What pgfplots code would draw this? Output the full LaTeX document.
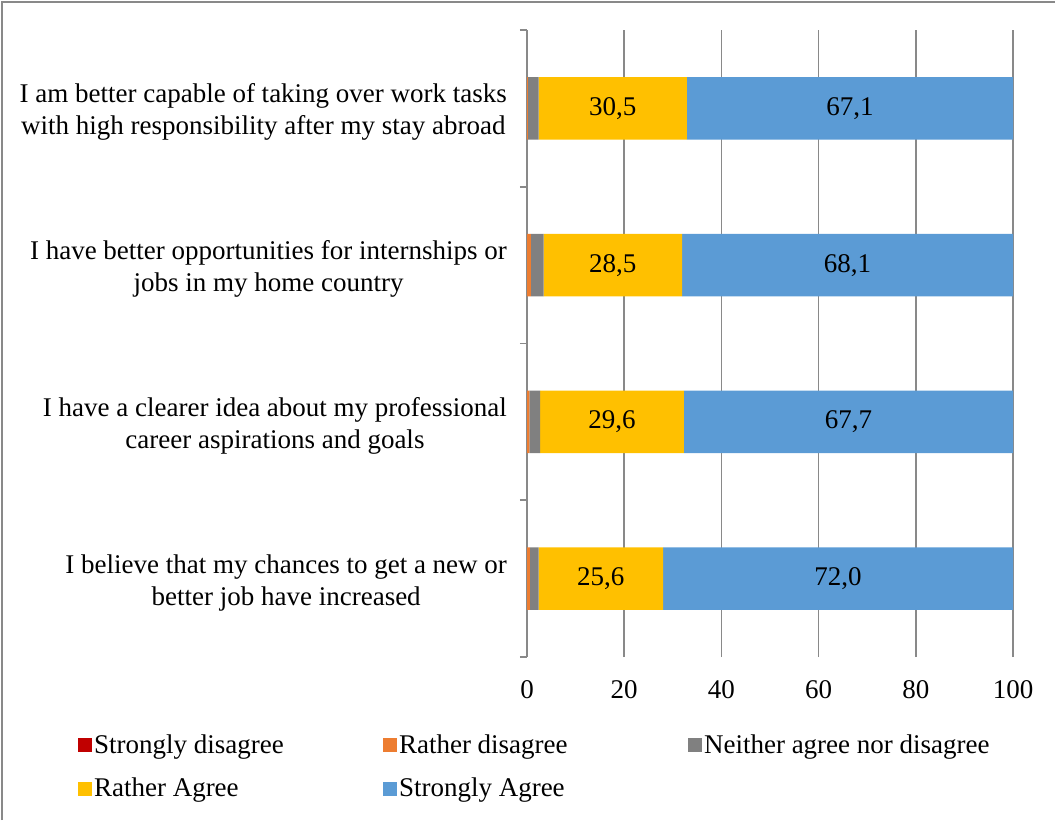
\documentclass[border=0pt]{standalone}
\usepackage{pgfplots}
\pgfplotsset{compat=1.18}
\usepackage{fontspec}
\setmainfont{Liberation Serif}
\definecolor{sdis}{HTML}{C00000}
\definecolor{rdis}{HTML}{ED7D31}
\definecolor{neit}{HTML}{808080}
\definecolor{ragr}{HTML}{FFC000}
\definecolor{sagr}{HTML}{5B9BD5}
\definecolor{gridc}{HTML}{898989}
\newcommand{\cf}{\fontsize{13.5}{16}\selectfont}
\begin{document}
\begin{tikzpicture}
\useasboundingbox (0,0) rectangle (527.5pt,-410pt);
\draw[gridc, line width=0.8pt] (1pt,-410pt) -- (1pt,-1pt) -- (527.5pt,-1pt);
\begin{axis}[
  at={(263.5pt,-328.5pt)}, anchor=south west,
  scale only axis, width=243pt, height=313.5pt,
  xbar stacked, bar width=0.4,
  xmin=0, xmax=100, ymin=-0.5, ymax=3.5,
  xtick={0,20,...,100},
  ytick={0,1,2,3},
  yticklabels={{I believe that my chances to get a new or\\better job have increased},
               {I have a clearer idea about my professional\\career aspirations and goals},
               {I have better opportunities for internships or\\jobs in my home country},
               {I am better capable of taking over work tasks\\with high responsibility after my stay abroad}},
  major tick length=0pt,
  extra y ticks={-0.5,0.5,1.5,2.5,3.5},
  extra y tick labels={},
  extra y tick style={major tick length=3.5pt, tick align=outside, grid=none, tick style={gridc, line width=0.8pt}},
  axis x line*=bottom, axis y line*=left,
  x axis line style={draw=none},
  y axis line style={gridc, line width=0.8pt, -},
  xmajorgrids, major grid style={gridc, line width=0.8pt},
  tick label style={font=\cf},
  yticklabel style={align=center, xshift=-6.5pt, yshift=-2pt},
  xticklabel style={yshift=-8pt},
  /pgf/number format/assume math mode=true,
  legend columns=3,
  legend style={at={(rel axis cs:-0.938,-0.11)}, anchor=north west, draw=none, fill=none, font=\cf,
    row sep=7pt, nodes={inner xsep=1.25pt}},
  legend image code/.code={\fill[#1] (0pt,-3.5pt) rectangle (7pt,3.5pt);},
  legend cell align=left,
]
\addplot[fill=sdis, draw=none] coordinates {(0,0) (0,1) (0,2) (0,3)};
\addplot[fill=rdis, draw=none] coordinates {(0.6,0) (0.5,1) (0.8,2) (0.2,3)};
\addplot[fill=neit, draw=none] coordinates {(1.8,0) (2.2,1) (2.6,2) (2.2,3)};
\addplot[fill=ragr, draw=none, nodes near coords, point meta=rawx,
  nodes near coords={\pgfmathprintnumber[fixed,fixed zerofill,precision=1,use comma]{\pgfplotspointmeta}},
  every node near coord/.append style={anchor=center, font=\cf, text=black}]
  coordinates {(25.6,0) (29.6,1) (28.5,2) (30.5,3)};
\addplot[fill=sagr, draw=none, nodes near coords, point meta=rawx,
  nodes near coords={\pgfmathprintnumber[fixed,fixed zerofill,precision=1,use comma]{\pgfplotspointmeta}},
  every node near coord/.append style={anchor=center, font=\cf, text=black}]
  coordinates {(72.0,0) (67.7,1) (68.1,2) (67.1,3)};
\legend{\makebox[143pt][l]{Strongly disagree},\makebox[143pt][l]{Rather disagree},\makebox[143pt][l]{Neither agree nor disagree},Rather Agree,Strongly Agree}
\end{axis}
\end{tikzpicture}
\end{document}
